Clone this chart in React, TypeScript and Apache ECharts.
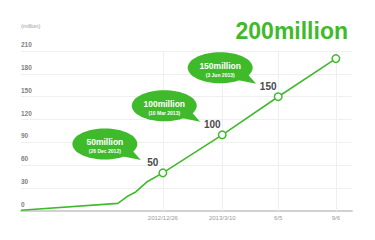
import React, { useEffect, useRef } from "react";
import * as echarts from "echarts";

// x position (axis units, milestone ticks at 0..3) and registered users (million)
const xPos = [-2.46, -0.78, -0.62, -0.47, -0.28, 0, 1.03, 2, 3];
const users = [1, 10, 19, 25, 38, 50, 100, 150, 200];

const milestoneValues = [50, 100, 150, 200];
const tickLabels = ["2012/12/26", "2013/3/10", "6/5", "9/6"];
const calloutTitles = ["50million", "100million", "150million"];
const calloutDates = ["(26 Dec 2012)", "(10 Mar 2013)", "(3 Jun 2013)"];
const headline = "200million";
const yUnit = "(million)";

const GREEN = "#3fba2b";
const FONT = "'Liberation Sans', Arial, sans-serif";

export default function App() {
  const ref = useRef<HTMLDivElement>(null);
  useEffect(() => {
    if (!ref.current) return;
    const chart = echarts.init(ref.current, null, { renderer: "svg" });
    const milestoneX = milestoneValues.map((v) => xPos[users.indexOf(v)]);
    const data = xPos.map((x, i) => {
      const mi = milestoneValues.indexOf(users[i]);
      const isM = mi >= 0;
      return {
        value: [x, users[i]],
        symbol: isM ? "circle" : "none",
        symbolSize: isM ? 7.5 : 0,
        label: { show: isM && mi < calloutTitles.length },
      };
    });
    chart.setOption({
      animation: false,
      color: [GREEN],
      grid: { left: 21, right: 23, top: 51, bottom: 29 },
      xAxis: {
        type: "value",
        min: xPos[0],
        max: 3.28,
        axisLine: { show: true, onZero: false, lineStyle: { color: "#d2d2d2", width: 2 } },
        axisTick: { show: false },
        splitLine: { show: false },
        axisLabel: {
          customValues: milestoneX,
          formatter: (v: number) => {
            const i = milestoneX.findIndex((m) => Math.abs(m - v) < 1e-6);
            return i >= 0 ? tickLabels[i] : "";
          },
          color: "#999",
          fontSize: 6,
          fontFamily: FONT,
          margin: 4,
        },
      },
      yAxis: {
        type: "value",
        min: 0,
        max: 210,
        interval: 30,
        axisLine: { show: false, onZero: false },
        axisTick: { show: false },
        splitLine: { lineStyle: { color: "#efefef", width: 1 } },
        axisLabel: {
          inside: true,
          margin: 0,
          verticalAlign: "bottom",
          padding: [0, 0, 3, 0],
          color: "#808080",
          fontSize: 6.5,
          fontWeight: "bold",
          fontFamily: FONT,
        },
      },
      series: [
        {
          type: "line",
          data,
          color: GREEN,
          lineStyle: { color: GREEN, width: 1.6 },
          itemStyle: { color: "#fff", borderColor: GREEN, borderWidth: 1.5 },
          label: {
            position: "top",
            distance: 1,
            offset: [-10, 0],
            formatter: (p: any) => String(p.value[1]),
            color: "#4a4a4a",
            fontSize: 10,
            fontWeight: "bold",
            fontFamily: FONT,
          },
          markLine: {
            silent: true,
            symbol: "none",
            z: 1,
            label: { show: false },
            lineStyle: { color: "#efefef", width: 1, type: "solid" },
            data: milestoneX.map((x) => ({ xAxis: x })),
          },
          z: 3,
        },
      ],
    });

    const graphics: any[] = [
      {
        type: "text",
        z: 100,
        style: { text: yUnit, x: 21, y: 26, verticalAlign: "middle", fill: "#9a9a9a", fontSize: 5.5, fontFamily: FONT },
      },
      {
        type: "text",
        z: 100,
        style: {
          text: headline,
          x: 348,
          y: 31,
          align: "right",
          verticalAlign: "middle",
          fill: GREEN,
          fontSize: 23,
          fontWeight: "bold",
          fontFamily: FONT,
        },
      },
    ];
    calloutTitles.forEach((title, i) => {
      const p = chart.convertToPixel({ seriesIndex: 0 }, [milestoneX[i], milestoneValues[i]]) as number[];
      const cx = p[0] - 58;
      const cy = p[1] - 29;
      graphics.push(
        {
          type: "polygon",
          z: 100,
          shape: { points: [[cx + 16, cy + 12], [cx + 27, cy + 6], [cx + 36, cy + 16]] },
          style: { fill: GREEN },
        },
        {
          type: "ellipse",
          z: 100,
          shape: { cx, cy, rx: 32.5, ry: 15.5 },
          style: { fill: GREEN },
        },
        {
          type: "text",
          z: 101,
          style: {
            text: title,
            x: cx,
            y: cy - 2,
            align: "center",
            verticalAlign: "middle",
            fill: "#fff",
            fontSize: 8.5,
            fontWeight: "bold",
            fontFamily: FONT,
          },
        },
        {
          type: "text",
          z: 101,
          style: {
            text: calloutDates[i],
            x: cx,
            y: cy + 7,
            align: "center",
            verticalAlign: "middle",
            fill: "#fff",
            fontSize: 5,
            fontWeight: "bold",
            fontFamily: FONT,
          },
        }
      );
    });
    chart.setOption({ graphic: graphics });
    return () => chart.dispose();
  }, []);
  return (
    <div
      ref={ref}
      style={{ position: "absolute", left: 0, top: 0, width: 375, height: 240, background: "#fff" }}
    />
  );
}
